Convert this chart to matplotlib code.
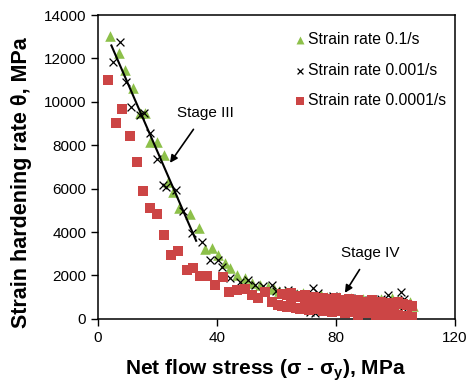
import matplotlib
matplotlib.use("Agg")
import matplotlib.pyplot as plt

plt.rcParams['font.family'] = ['Liberation Sans', 'DejaVu Sans']
plt.rcParams['mathtext.fontset'] = 'custom'
plt.rcParams['mathtext.rm'] = 'Liberation Sans'
plt.rcParams['mathtext.bf'] = 'Liberation Sans:bold'

# strain rate 0.1/s (green triangles)
g_x = [4.0, 7.1, 9.1, 11.8, 14.1, 15.8, 17.5, 19.9, 22.2, 23.4, 25.2, 27.2, 30.9, 34.0,
       36.0, 38.3, 40.3, 42.7, 44.4, 46.7, 49.4, 51.8, 54.5, 57.0,
       59, 61, 63, 65, 67, 69, 71, 73, 75, 77, 79, 81, 83, 85, 87, 89, 91, 93, 95, 97,
       99, 101, 103, 105, 104.5, 106]
g_y = [13030, 12250, 11470, 10640, 9490, 9490, 8150, 8150, 7550, 6310, 5850, 5110, 4840, 4190,
       3220, 3270, 2950, 2580, 2350, 2030, 1890, 1660, 1570, 1470,
       1400, 1300, 1250, 1200, 1150, 1200, 1100, 1050, 1100, 1000, 950, 1000, 900, 950, 850, 900,
       800, 850, 900, 750, 950, 850, 700, 800, 250, 600]

# strain rate 0.001/s (black crosses)
k_x = [5.0, 7.4, 9.4, 11.1, 14.1, 15.5, 17.5, 19.8, 21.8, 22.9, 26.2, 28.5, 31.6, 35.0,
       37.6, 40.3, 41.7, 44.4, 47.7, 50.4, 52.8, 55.5, 58.5, 60, 62, 64, 66, 68, 70, 72.3,
       71.3, 73, 75, 74, 77, 79, 81, 83, 85, 87, 89, 91, 93, 95, 97.5, 99, 102, 101, 104, 103]
k_y = [11840, 12760, 10920, 9770, 9400, 9490, 8570, 7370, 6150, 6080, 5940, 4950, 3960, 3550,
       2720, 2720, 2400, 1890, 1700, 1800, 1570, 1500, 1570, 1300, 1200, 1350, 1100, 1150, 1000,
       1430, 320, 250, 400, 1200, 950, 1050, 900, 800, 950, 850, 700, 850, 750, 900, 1100, 800,
       1240, 600, 500, 900]

# strain rate 0.0001/s (red squares)
r_x = [3.4, 6.1, 8.1, 10.8, 13.1, 15.2, 17.5, 20.0, 22.2, 24.5, 26.9, 29.8, 32.0, 34.3, 36.6,
       39.3, 42.0, 44.0, 46.7, 49.4, 51.8, 53.8, 56.0, 58.5, 60.5,
       62, 63.5, 65, 66.5, 68, 69.5, 71, 72.5, 74, 75.5, 77, 78.5, 80, 81.5, 83, 84.5, 86, 87.5,
       89, 90.5, 92, 93.5, 95, 96.5, 98, 99.5, 101, 102.5, 104, 105.5,
       62, 63.5, 65, 66.5, 68, 69.5, 71, 72.5, 74, 75.5, 77, 78.5, 80, 81.5, 83, 84.5, 86, 87.5,
       89, 90.5, 92, 93.5, 95, 96.5, 98, 99.5, 101, 102.5, 104, 105.5]
r_y = [11000, 9030, 9670, 8430, 7230, 5880, 5110, 4840, 3870, 2950, 3130, 2260, 2350, 1980, 1980,
       1570, 1910, 1220, 1340, 1380, 1100, 970, 1240, 780, 640,
       1150, 1100, 1200, 1050, 1000, 1100, 950, 1000, 900, 950, 850, 900, 950, 850, 800, 900, 750,
       850, 800, 700, 850, 750, 800, 700, 750, 650, 800, 700, 650, 600,
       600, 550, 650, 500, 450, 600, 400, 500, 450, 350, 400, 300, 450, 350, 250, 400, 300, 200,
       350, 250, 300, 150, 250, 200, 300, 150, 200, 100, 150, 100]

# stage III fit line
fit_x = [4.5, 33.0]
fit_y = [12600, 3600]

fig = plt.figure(figsize=(4.7, 3.87), dpi=100)
ax = fig.add_axes([0.2085, 0.176, 0.7595, 0.785])

ax.scatter(g_x, g_y, marker='^', s=58, color='#8dc04a', linewidths=0, label='Strain rate 0.1/s', zorder=2)
ax.scatter(k_x, k_y, marker='x', s=32, color='black', linewidths=0.9, label='Strain rate 0.001/s', zorder=3)
ax.scatter(r_x, r_y, marker='s', s=55, color='#cc4545', linewidths=0, label='Strain rate 0.0001/s', zorder=4)
ax.plot(fit_x, fit_y, color='black', lw=1.5, zorder=5)

ax.annotate('Stage III', xy=(24.2, 7190), xytext=(36, 9500), fontsize=11, ha='center', va='center',
            arrowprops=dict(arrowstyle='-|>', color='black', lw=1.2, shrinkA=6, shrinkB=0))
ax.annotate('Stage IV', xy=(83, 1200), xytext=(91.5, 3050), fontsize=11, ha='center', va='center',
            arrowprops=dict(arrowstyle='-|>', color='black', lw=1.2, shrinkA=6, shrinkB=0))

ax.set_xlim(0, 120)
ax.set_ylim(0, 14000)
ax.set_xticks([0, 40, 80, 120])
ax.set_yticks(range(0, 14001, 2000))
ax.tick_params(labelsize=11, direction='out', length=5, width=1)
for s in ax.spines.values():
    s.set_linewidth(1.1)

ax.set_xlabel('Net flow stress (σ - σ$_{\\mathbf{y}}$), MPa', fontsize=15, fontweight='bold')
ax.set_ylabel('Strain hardening rate θ, MPa', fontsize=15.5, fontweight='bold')
ax.xaxis.set_label_coords(0.47, -0.125)
ax.yaxis.set_label_coords(-0.185, 0.45)

ax.legend(loc='upper right', bbox_to_anchor=(1.002, 0.975), frameon=False, fontsize=11.3,
          handletextpad=0.0, handlelength=1.0, labelspacing=1.0, markerscale=0.75, borderaxespad=0.2)

plt.savefig('out.png', dpi=100)
